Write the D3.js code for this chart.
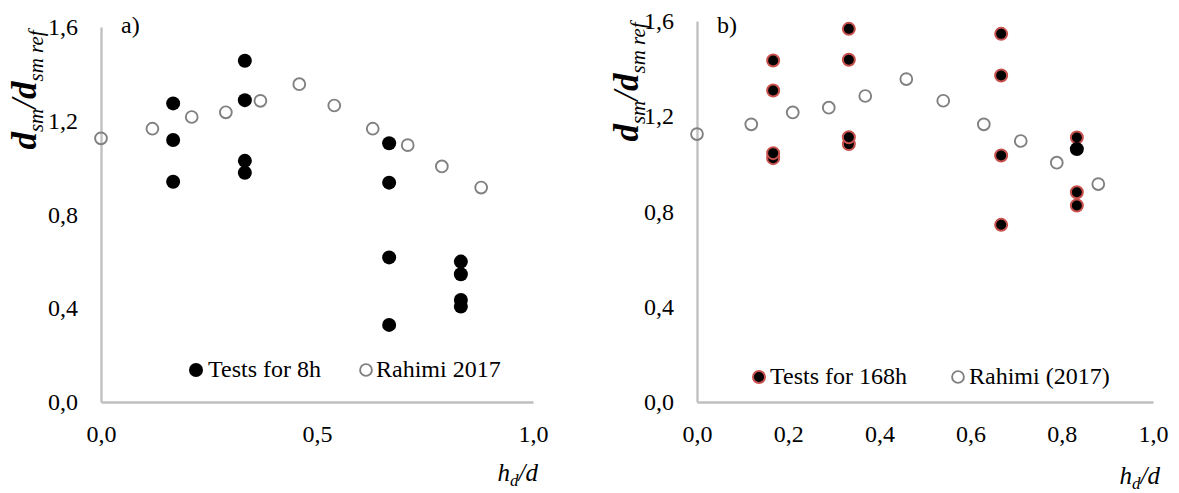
<!DOCTYPE html>
<html>
<head>
<meta charset="utf-8">
<script src="https://cdn.jsdelivr.net/npm/d3@7"></script>
<style>
  html, body { margin: 0; padding: 0; background: #fff; }
  svg { display: block; }
  text { font-family: "Liberation Serif", "Times New Roman", serif; fill: #000; }
</style>
</head>
<body>
<svg id="chart" width="1179" height="493"></svg>
<script>
// ---------- data ----------
const yTicks = [0, 0.4, 0.8, 1.2, 1.6];
const xTicksA = [0, 0.5, 1.0];
const xTicksB = [0, 0.2, 0.4, 0.6, 0.8, 1.0];

// Panel a: tests for 8h
const tests8hX = [0.167, 0.167, 0.167, 0.333, 0.333, 0.333, 0.333, 0.667, 0.667, 0.667, 0.667, 0.833, 0.833, 0.833, 0.833];
const tests8hY = [1.274, 1.118, 0.940, 1.456, 1.288, 1.029, 0.978, 1.104, 0.936, 0.617, 0.329, 0.599, 0.545, 0.435, 0.407];

// Panel b: tests for 168h
const tests168hX = [0.167, 0.167, 0.167, 0.167, 0.333, 0.333, 0.333, 0.333, 0.667, 0.667, 0.667, 0.667, 0.833, 0.833, 0.833];
const tests168hY = [1.434, 1.308, 1.045, 1.024, 1.567, 1.437, 1.112, 1.083, 1.546, 1.371, 1.035, 0.744, 1.111, 0.881, 0.825];
// one point drawn without the red rim
const tests168hPlainX = [0.833];
const tests168hPlainY = [1.062];

// Rahimi 2017 (both panels)
const rahimiX = [0, 0.119, 0.210, 0.289, 0.369, 0.459, 0.540, 0.629, 0.710, 0.789, 0.880];
const rahimiY = [1.125, 1.166, 1.216, 1.236, 1.285, 1.356, 1.265, 1.166, 1.096, 1.005, 0.915];

const legendA = ["Tests for 8h", "Rahimi 2017"];
const legendB = ["Tests for 168h", "Rahimi (2017)"];

// ---------- drawing ----------
const svg = d3.select("#chart");
const AXIS = "#bfbfbf", GREY = "#808080", RED = "#c8514d";
const fmt = d => d3.format(".1f")(d).replace(".", ",");
const zip = (xs, ys) => xs.map((x, i) => ({x, y: ys[i]}));

function panel(cfg) {
  const g = svg.append("g");
  const x = d3.scaleLinear().domain([0, 1]).range(cfg.xr);
  const y = d3.scaleLinear().domain([0, 1.6]).range(cfg.yr);

  const ya = g.append("g").attr("transform", `translate(${cfg.xr[0]},0)`)
    .call(d3.axisLeft(y).tickValues(yTicks).tickSize(0).tickPadding(23).tickFormat(fmt));
  const xa = g.append("g").attr("transform", `translate(0,${cfg.yr[0]})`)
    .call(d3.axisBottom(x).tickValues(cfg.xTicks).tickSize(0).tickPadding(23).tickFormat(fmt));
  [ya, xa].forEach(a => {
    a.attr("font-family", "Liberation Serif");
    a.select(".domain").attr("stroke", AXIS).attr("stroke-width", 2.3);
    a.selectAll("text").attr("font-size", 24).attr("font-family", "Liberation Serif");
  });

  // panel letter
  g.append("text").attr("x", cfg.xr[0] + 20).attr("y", 33).attr("font-size", 24).text(cfg.letter);

  // y title
  const yt = g.append("text")
    .attr("transform", `translate(${cfg.ytx},${cfg.yty}) rotate(-90)`)
    .attr("text-anchor", "middle").attr("font-style", "italic");
  yt.append("tspan").attr("font-size", 35).attr("font-weight", "bold").text("d");
  yt.append("tspan").attr("font-size", 21).attr("dy", 7).text("sm");
  yt.append("tspan").attr("font-size", 35).attr("dy", -7).text("/");
  yt.append("tspan").attr("font-size", 35).attr("font-weight", "bold").text("d");
  yt.append("tspan").attr("font-size", 21).attr("dy", 7).text("sm ref");

  // x title
  const xt = g.append("text").attr("x", cfg.xtx).attr("y", cfg.xty)
    .attr("text-anchor", "end").attr("font-style", "italic").attr("font-size", 25);
  xt.append("tspan").text("h");
  xt.append("tspan").attr("font-size", 17).attr("dy", 5).text("d");
  xt.append("tspan").attr("dy", -5).text("/d");

  // Rahimi open circles
  g.append("g").selectAll("circle").data(zip(rahimiX, rahimiY)).join("circle")
    .attr("cx", d => x(d.x)).attr("cy", d => y(d.y)).attr("r", 5.9)
    .attr("fill", "none").attr("stroke", GREY).attr("stroke-width", 1.9);

  // test points
  const tests = zip(cfg.tx, cfg.ty).sort((a, b) => a.y - b.y);
  g.append("g").selectAll("circle").data(tests).join("circle")
    .attr("cx", d => x(d.x)).attr("cy", d => y(d.y)).attr("r", cfg.red ? 6 : 7)
    .attr("fill", "#000").attr("stroke", cfg.red ? RED : "none").attr("stroke-width", 2);
  if (cfg.px) {
    g.append("g").selectAll("circle").data(zip(cfg.px, cfg.py)).join("circle")
      .attr("cx", d => x(d.x)).attr("cy", d => y(d.y)).attr("r", 7).attr("fill", "#000");
  }

  // legend
  const L = cfg.legend;
  g.append("circle").attr("cx", L.m1).attr("cy", L.my).attr("r", cfg.red ? 6 : 7)
    .attr("fill", "#000").attr("stroke", cfg.red ? RED : "none").attr("stroke-width", 2);
  g.append("text").attr("x", L.t1).attr("y", L.ty).attr("font-size", 24).text(cfg.legendText[0]);
  g.append("circle").attr("cx", L.m2).attr("cy", L.my).attr("r", 5.9)
    .attr("fill", "none").attr("stroke", GREY).attr("stroke-width", 1.9);
  g.append("text").attr("x", L.t2).attr("y", L.ty).attr("font-size", 24).text(cfg.legendText[1]);
}

panel({
  xr: [101, 533], yr: [402, 27], xTicks: xTicksA, letter: "a)",
  ytx: 36, yty: 90, xtx: 538, xty: 481,
  tx: tests8hX, ty: tests8hY, red: false,
  legend: {m1: 196, m2: 366, my: 370, t1: 208, t2: 376, ty: 377},
  legendText: legendA
});

panel({
  xr: [697, 1153], yr: [402, 21], xTicks: xTicksB, letter: "b)",
  ytx: 638, yty: 82, xtx: 1160, xty: 484,
  tx: tests168hX, ty: tests168hY, red: true,
  px: tests168hPlainX, py: tests168hPlainY,
  legend: {m1: 759, m2: 958, my: 377, t1: 770, t2: 969, ty: 384},
  legendText: legendB
});
</script>
</body>
</html>
